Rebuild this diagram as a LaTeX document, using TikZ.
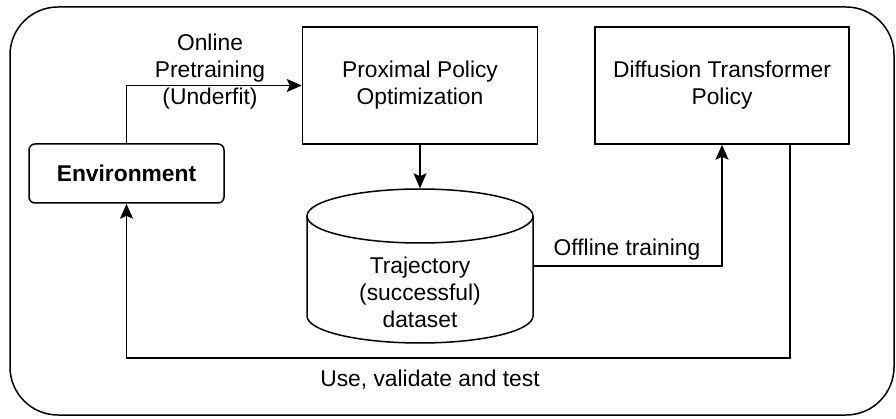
\documentclass[tikz,border=0pt]{standalone}
\usepackage{fontspec}
\setmainfont{Liberation Sans}
\usetikzlibrary{arrows.meta}
\begin{document}
\begin{tikzpicture}[x=1pt,y=-1pt,
  line width=1.5pt,
  every node/.style={font=\fontsize{22.8}{27}\selectfont, align=center, inner sep=0pt},
  blk/.style={draw, minimum height=117pt},
  arr/.style={-{Stealth[length=15pt,width=13pt,inset=3pt]}}]
\useasboundingbox (0,0) rectangle (896,419);
% outer frame
\draw[rounded corners=48pt] (10,7) rectangle (894,415);
% boxes
\node[blk, minimum width=235pt] (ppo) at (420,85.5) {Proximal Policy\\Optimization};
\node[blk, minimum width=254pt] (dif) at (722,85.5) {Diffusion Transformer\\Policy};
\node[draw, rounded corners=6pt, minimum width=195pt, minimum height=59pt, font=\fontsize{22.8}{27}\selectfont\bfseries] (env) at (126.5,173.5) {Environment};
% cylinder
\node[minimum width=226pt, minimum height=154pt] (cyl) at (420,266) {};
\draw (307,216) -- (307,316) arc[start angle=180, end angle=360, x radius=113pt, y radius=27pt] -- (533,216);
\draw (420,216) ellipse[x radius=113pt, y radius=27pt];
\node (cyltext) at (420,292) {Trajectory\\(successful)\\dataset};
% connectors
\draw[arr] (env.north) |- (ppo.west);
\node (lonline) at (210,72) {Online\\Pretraining\\(Underfit)};
\draw[arr] (ppo.south) -- (cyl.north);
\draw[arr] (cyl.east) -| (dif.south);
\node (loffline) at (627,250) {Offline training};
\draw[arr] ([xshift=68pt]dif.south) -- ++(0,213) -| (env.south);
\node (luse) at (430,380) {Use, validate and test};
\end{tikzpicture}
\end{document}
